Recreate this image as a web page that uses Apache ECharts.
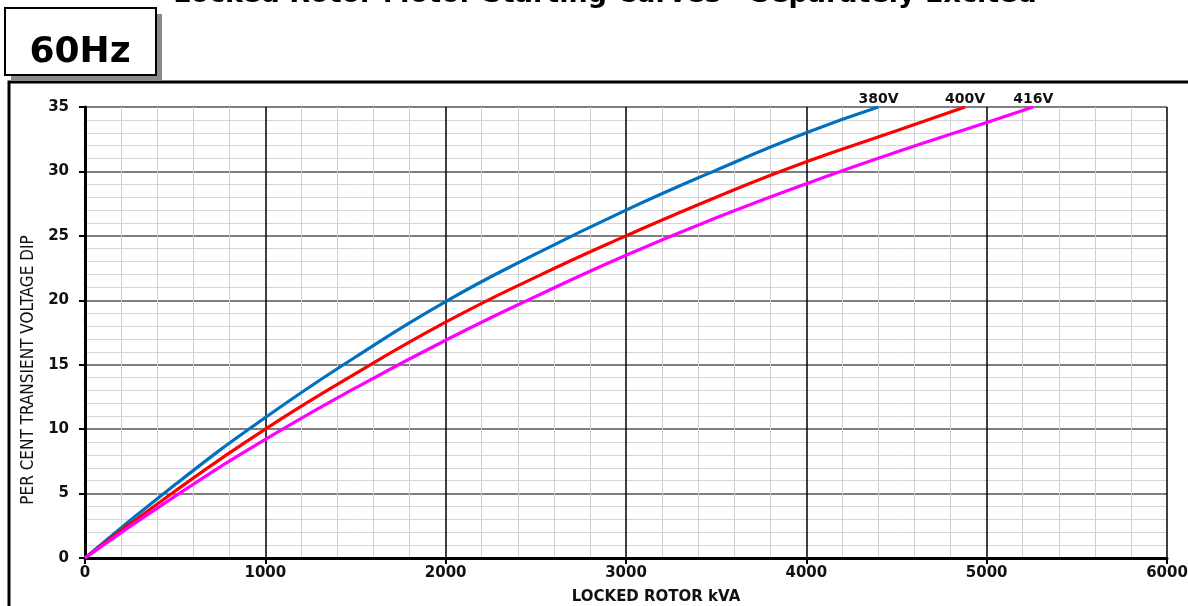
<!DOCTYPE html>
<html>
<head>
<meta charset="utf-8">
<script src="https://cdn.jsdelivr.net/npm/echarts@6/dist/echarts.min.js"></script>
<style>
html,body{margin:0;padding:0;background:#fff;}
#c{width:1188px;height:606px;}
</style>
</head>
<body>
<div id="c"></div>
<script>
const xTicks = [0, 1000, 2000, 3000, 4000, 5000, 6000];
const yTicks = [0, 5, 10, 15, 20, 25, 30, 35];

const kva380 = [0, 500, 1000, 1500, 2000, 2500, 3000, 3500, 4000, 4400];
const dip380 = [0, 5.7, 10.9, 15.6, 19.9, 23.6, 27.0, 30.1, 33.0, 35];

const kva400 = [0, 500, 1000, 1500, 2000, 2500, 3000, 3500, 4000, 4500, 4880];
const dip400 = [0, 5.2, 10.0, 14.3, 18.3, 21.8, 25.0, 28.0, 30.75, 33.15, 35];

const kva416 = [0, 500, 1000, 1500, 2000, 2500, 3000, 3500, 4000, 4500, 5000, 5258];
const dip416 = [0, 4.8, 9.2, 13.2, 16.9, 20.3, 23.5, 26.4, 29.05, 31.5, 33.8, 35];

const seriesNames = ['380V', '400V', '416V'];
const seriesColors = ['#0070C0', '#FF0000', '#FF00FF'];

const titleText = 'Locked Rotor Motor Starting Curves - Separately Excited';
const freqText = '60Hz';
const xName = 'LOCKED ROTOR kVA';
const yName = 'PER CENT TRANSIENT VOLTAGE DIP';

const curves = [[kva380, dip380], [kva400, dip400], [kva416, dip416]];

const FONT = '"DejaVu Sans", "Liberation Sans", Arial, sans-serif';

const chart = echarts.init(document.getElementById('c'), null, { renderer: 'canvas' });
chart.setOption({
  backgroundColor: '#fff',
  animation: false,
  grid: { left: 85, right: 21, top: 107, bottom: 48, containLabel: false, outerBoundsMode: 'none' },
  xAxis: {
    type: 'value', min: xTicks[0], max: xTicks[xTicks.length - 1], interval: 1000,
    axisLine: { show: true, onZero: false, lineStyle: { color: '#000', width: 3 } },
    axisTick: { show: true, length: 6, lineStyle: { color: '#000', width: 2 } },
    axisLabel: { color: '#111', fontFamily: FONT, fontWeight: 'bold', fontSize: 15, margin: 8,
      formatter: v => String(v) },
    splitLine: { show: true, lineStyle: { color: '#000', width: 1.5 } },
    minorTick: { show: false, splitNumber: 5 },
    minorSplitLine: { show: true, lineStyle: { color: '#cfcfcf', width: 1 } }
  },
  yAxis: {
    type: 'value', min: yTicks[0], max: yTicks[yTicks.length - 1], interval: 5,
    axisLine: { show: true, onZero: false, lineStyle: { color: '#000', width: 3 } },
    axisTick: { show: true, length: 6, lineStyle: { color: '#000', width: 2 } },
    axisLabel: { color: '#111', fontFamily: FONT, fontWeight: 'bold', fontSize: 15, margin: 16,
      formatter: v => String(v) },
    splitLine: { show: true, lineStyle: { color: '#555', width: 1.5 } },
    minorTick: { show: false, splitNumber: 5 },
    minorSplitLine: { show: true, lineStyle: { color: '#d6d6d6', width: 1 } }
  },
  series: curves.map((c, i) => ({
    name: seriesNames[i],
    type: 'line',
    smooth: true,
    showSymbol: false,
    symbol: 'none',
    data: c[0].map((x, j) => [x, c[1][j]]),
    lineStyle: { color: seriesColors[i], width: 3.2 },
    itemStyle: { color: seriesColors[i] },
    markPoint: {
      symbol: 'circle',
      symbolSize: 0,
      silent: true,
      data: [{ coord: [c[0][c[0].length - 1], c[1][c[1].length - 1]] }],
      label: {
        show: true,
        position: 'top',
        distance: 1,
        formatter: seriesNames[i],
        color: '#111',
        fontFamily: FONT,
        fontWeight: 'bold',
        fontSize: 14
      }
    },
    z: 5
  })),
  graphic: [
    { type: 'rect', z: 0, shape: { x: 9, y: 82, width: 1200, height: 600 },
      style: { fill: 'none', stroke: '#000', lineWidth: 3 } },
    { type: 'rect', z: 1, shape: { x: 11, y: 14, width: 151, height: 67 },
      style: { fill: '#8a8a8a', stroke: 'none' } },
    { type: 'rect', z: 2, shape: { x: 5, y: 8, width: 151, height: 67 },
      style: { fill: '#fff', stroke: '#000', lineWidth: 2 } },
    { type: 'text', z: 3, x: 80, y: 53,
      style: { text: freqText, fill: '#000', font: 'bold 36px ' + FONT, align: 'center', verticalAlign: 'middle' } },
    { type: 'text', z: 3, x: 605, y: -5,
      style: { text: titleText, fill: '#000', font: 'bold 27px ' + FONT, align: 'center', verticalAlign: 'middle' } },
    { type: 'text', z: 3, x: 656, y: 597,
      style: { text: xName, fill: '#111', font: 'bold 15px ' + FONT, align: 'center', verticalAlign: 'middle' } },
    { type: 'text', z: 3, x: 29, y: 370, rotation: Math.PI / 2,
      style: { text: yName, fill: '#111', font: '17px "Liberation Sans Narrow", "DejaVu Sans Condensed", "Liberation Sans", sans-serif', align: 'center', verticalAlign: 'middle' } }
  ]
});
</script>
</body>
</html>
